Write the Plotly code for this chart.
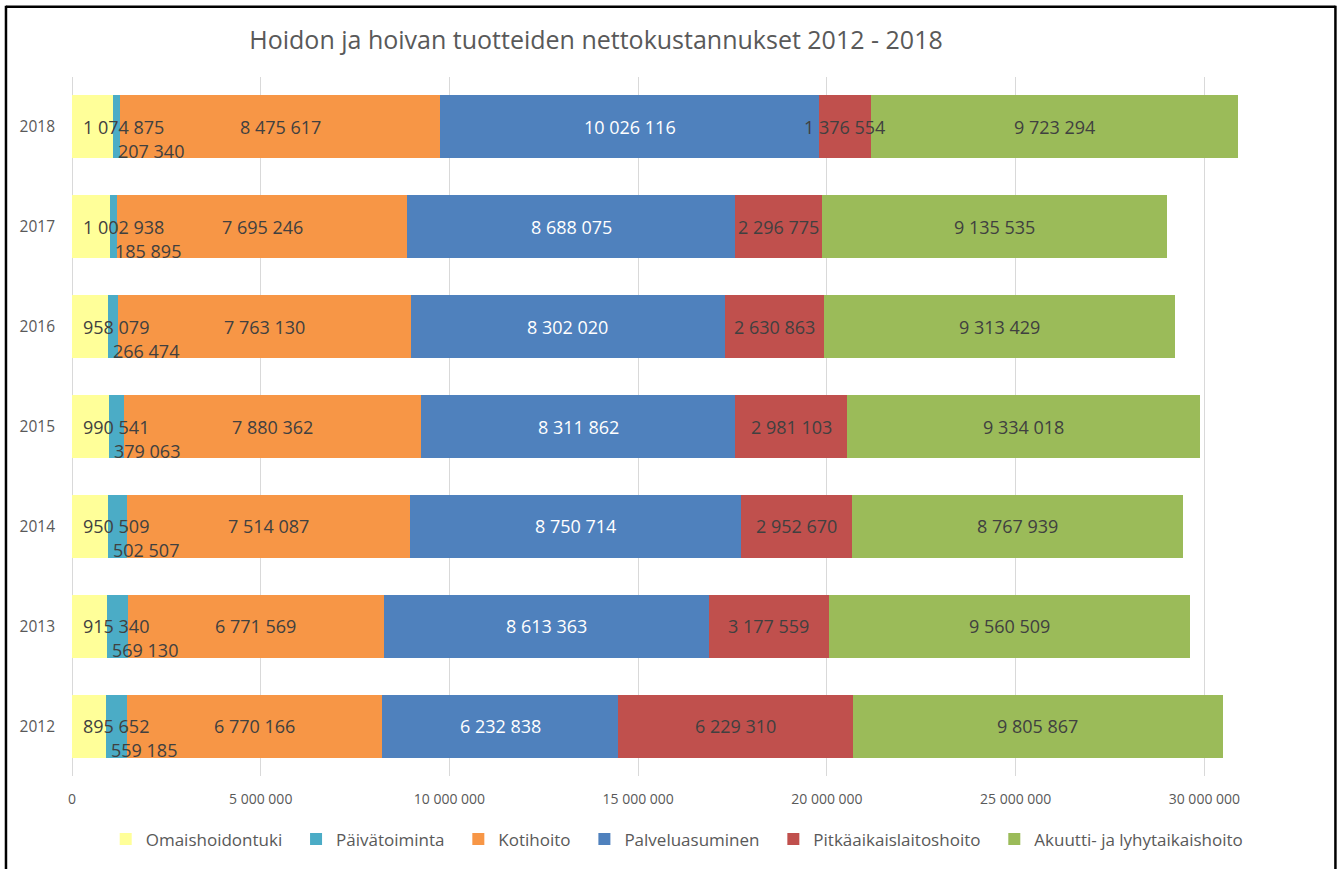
import plotly.graph_objects as go

years = ["2012", "2013", "2014", "2015", "2016", "2017", "2018"]
series_names = ["Omaishoidontuki", "Päivätoiminta", "Kotihoito", "Palveluasuminen",
                "Pitkäaikaislaitoshoito", "Akuutti- ja lyhytaikaishoito"]
omaishoidontuki = [895652, 915340, 950509, 990541, 958079, 1002938, 1074875]
paivatoiminta = [559185, 569130, 502507, 379063, 266474, 185895, 207340]
kotihoito = [6770166, 6771569, 7514087, 7880362, 7763130, 7695246, 8475617]
palveluasuminen = [6232838, 8613363, 8750714, 8311862, 8302020, 8688075, 10026116]
pitkaaikais = [6229310, 3177559, 2952670, 2981103, 2630863, 2296775, 1376554]
akuutti = [9805867, 9560509, 8767939, 9334018, 9313429, 9135535, 9723294]
x_ticks = [0, 5000000, 10000000, 15000000, 20000000, 25000000, 30000000]
x_tick_labels = ["0", "5 000 000", "10 000 000", "15 000 000", "20 000 000", "25 000 000", "30 000 000"]

all_series = [omaishoidontuki, paivatoiminta, kotihoito, palveluasuminen, pitkaaikais, akuutti]
colors = ["#FFFF99", "#4BACC6", "#F79646", "#4F81BD", "#C0504D", "#9BBB59"]
label_colors = ["#404040", "#404040", "#404040", "#FFFFFF", "#404040", "#404040"]
FONT = "Open Sans, sans-serif"
PAD = "\u00a0\u00a0"


def fmt(v):
    return f"{v:,}".replace(",", " ")


fig = go.Figure()
for k, (name, vals, col) in enumerate(zip(series_names, all_series, colors)):
    fig.add_trace(go.Bar(
        y=years, x=vals, name=name + (PAD if k < len(series_names) - 1 else ""),
        orientation="h",
        marker=dict(color=col, line=dict(width=0)),
        width=0.63, hoverinfo="skip",
    ))

annotations = []
for i, yr in enumerate(years):
    base = 0
    for s, vals in enumerate(all_series):
        v = vals[i]
        f = dict(family=FONT, size=18, color=label_colors[s])
        if s == 0:
            annotations.append(dict(x=base, y=i, xref="x", yref="y", text=fmt(v), showarrow=False,
                                    xanchor="left", yanchor="middle", xshift=9, font=f))
        elif s == 1:
            annotations.append(dict(x=base, y=i, xref="x", yref="y", text=fmt(v), showarrow=False,
                                    xanchor="left", yanchor="middle", xshift=3, yshift=-24, font=f))
        else:
            annotations.append(dict(x=base + v / 2, y=i, xref="x", yref="y", text=fmt(v), showarrow=False,
                                    xanchor="center", yanchor="middle", font=f))
        base += v

L, R, T, B = 72, 82.4, 77, 86
W, H = 1343, 869
pw = W - L - R
ph = H - T - B


def px_x(p):
    return (p - L) / pw


def px_y(p):
    return (H - B - p) / ph


shapes = [
    dict(type="line", xref="paper", yref="paper", x0=px_x(6), x1=px_x(6), y0=px_y(5), y1=px_y(880),
         line=dict(color="#000000", width=2.5)),
    dict(type="line", xref="paper", yref="paper", x0=px_x(1335), x1=px_x(1335), y0=px_y(5), y1=px_y(880),
         line=dict(color="#000000", width=2.5)),
    dict(type="line", xref="paper", yref="paper", x0=px_x(6), x1=px_x(1335), y0=px_y(6), y1=px_y(6),
         line=dict(color="#000000", width=2.5)),
]

fig.update_layout(
    barmode="stack",
    width=W, height=H,
    margin=dict(l=L, r=R, t=T, b=B, pad=0),
    paper_bgcolor="white", plot_bgcolor="white",
    font=dict(family=FONT, color="#595959"),
    title=dict(text="Hoidon ja hoivan tuotteiden nettokustannukset 2012 - 2018",
               x=596 / W, xref="container", xanchor="center",
               y=1 - 40 / H, yref="container", yanchor="middle",
               font=dict(family=FONT, size=25, color="#595959")),
    xaxis=dict(range=[0, 31500000], tickvals=x_ticks, ticktext=x_tick_labels,
               showgrid=True, gridcolor="#D9D9D9", gridwidth=1,
               zeroline=True, zerolinecolor="#D9D9D9", zerolinewidth=1,
               showline=False, ticks="", ticklabelstandoff=13,
               tickfont=dict(family=FONT, size=14, color="#595959")),
    yaxis=dict(type="category", categoryorder="array", categoryarray=years, range=[-0.5, 6.5],
               showgrid=False, zeroline=False, showline=False, ticks="",
               ticklabelstandoff=16,
               tickfont=dict(family=FONT, size=15.5, color="#595959")),
    legend=dict(orientation="h", x=px_x(677), xanchor="center", y=px_y(847), yanchor="middle",
                font=dict(family=FONT, size=17, color="#595959"), traceorder="normal",
                itemwidth=30),
    annotations=annotations,
    shapes=shapes,
    showlegend=True,
)

fig.write_html("out.html", config={"displayModeBar": False},
               post_script="document.body.style.margin='0';document.body.style.overflow='hidden';")
